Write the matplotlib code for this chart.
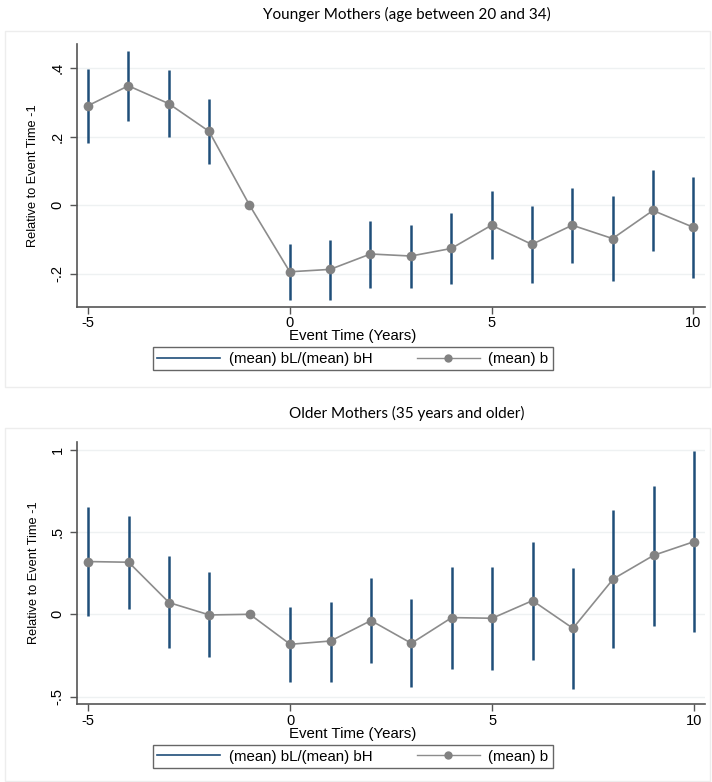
import matplotlib
matplotlib.use("Agg")
import matplotlib.pyplot as plt
from matplotlib.patches import Rectangle
from matplotlib.lines import Line2D
from matplotlib import font_manager

event_time = [-5, -4, -3, -2, -1, 0, 1, 2, 3, 4, 5, 6, 7, 8, 9, 10]

young_b = [0.290, 0.348, 0.296, 0.215, 0.0, -0.195, -0.188, -0.143, -0.149, -0.127,
           -0.059, -0.115, -0.059, -0.098, -0.016, -0.065]
young_hi = [0.398, 0.449, 0.393, 0.310, 0.0, -0.115, -0.102, -0.046, -0.057, -0.022,
            0.041, -0.003, 0.050, 0.027, 0.102, 0.083]
young_lo = [0.182, 0.246, 0.198, 0.120, 0.0, -0.276, -0.276, -0.242, -0.242, -0.231,
            -0.159, -0.227, -0.168, -0.221, -0.134, -0.212]

old_b = [0.320, 0.316, 0.071, -0.004, 0.0, -0.182, -0.162, -0.038, -0.176, -0.020,
         -0.024, 0.083, -0.085, 0.215, 0.358, 0.441]
old_hi = [0.650, 0.599, 0.354, 0.255, 0.0, 0.043, 0.077, 0.219, 0.091, 0.289,
          0.285, 0.441, 0.279, 0.634, 0.781, 0.988]
old_lo = [-0.010, 0.030, -0.206, -0.261, 0.0, -0.409, -0.409, -0.298, -0.443, -0.334,
          -0.338, -0.277, -0.451, -0.202, -0.069, -0.109]

young_yticks = [-0.2, 0.0, 0.2, 0.4]
young_ylabels = ["-.2", "0", ".2", ".4"]
old_yticks = [-0.5, 0.0, 0.5, 1.0]
old_ylabels = ["-.5", "0", ".5", "1"]
xticks = [-5, 0, 5, 10]
xlabels = ["-5", "0", "5", "10"]

titles = ["Younger Mothers (age between 20 and 34)", "Older Mothers (35 years and older)"]
legend_labels = ["(mean) bL/(mean) bH", "(mean) b"]

plt.rcParams["font.family"] = ["Liberation Sans", "DejaVu Sans"]
available = {f.name for f in font_manager.fontManager.ttflist}
if "Liberation Sans Narrow" in available:
    YLAB_FONT, YLAB_SIZE = "Liberation Sans Narrow", 10.5
else:
    YLAB_FONT, YLAB_SIZE = "Liberation Sans", 9.2

W, H = 712, 782
fig = plt.figure(figsize=(W / 100, H / 100), dpi=100)
fig.patch.set_facecolor("white")

CI_COL = "#1f4e79"
PT_COL = "#828282"
LINE_COL = "#8c8c8c"
GRID_COL = "#eef1f2"
FONT = "Liberation Sans"


def fx(px):
    return px / W


def fy(py):
    return 1 - py / H


def make_panel(left, right, top, bottom, b, lo, hi, ylim, xlim, yticks, ylabels,
               title, title_y, region, xlabel_y, leg_y):
    rx0, ry0, rx1, ry1 = region
    fig.patches.append(Rectangle((fx(rx0), fy(ry1)), fx(rx1 - rx0), (ry1 - ry0) / H,
                                 transform=fig.transFigure, facecolor="none",
                                 edgecolor="#ededed", linewidth=1.0, zorder=-1))
    ax = fig.add_axes([fx(left), fy(bottom), fx(right - left), (bottom - top) / H])
    ax.patch.set_alpha(0)
    ax.vlines(event_time, lo, hi, color=CI_COL, linewidth=1.8, zorder=3)
    ax.plot(event_time, b, color=LINE_COL, linewidth=1.2, zorder=4)
    ax.plot(event_time, b, color=PT_COL, linestyle="none", marker="o", markersize=7,
            markeredgewidth=0, zorder=5)
    ax.set_xlim(*xlim)
    ax.set_ylim(*ylim)
    ax.set_yticks(yticks)
    ax.set_yticklabels(ylabels, rotation=90, va="center", fontsize=10.5, family=FONT)
    ax.set_xticks(xticks)
    ax.set_xticklabels(xlabels, fontsize=10.5, family=FONT)
    ax.grid(axis="y", color=GRID_COL, linewidth=1.0, zorder=0)
    ax.set_axisbelow(True)
    for s in ["top", "right"]:
        ax.spines[s].set_visible(False)
    for s in ["left", "bottom"]:
        ax.spines[s].set_color("#555555")
        ax.spines[s].set_linewidth(1.2)
    ax.tick_params(axis="both", length=5, width=1, color="#555555")
    ax.tick_params(axis="x", pad=2)
    ax.tick_params(axis="y", pad=4)
    ax.set_ylabel("Relative to Event Time -1", fontsize=YLAB_SIZE, family=YLAB_FONT,
                  labelpad=8)
    fig.text(fx(353), fy(xlabel_y), "Event Time (Years)", ha="center", va="center",
             fontsize=10.8, family=FONT)
    fig.text(fx(407), fy(title_y), title, ha="center", va="center", fontsize=11,
             family="Lato", color="#000000")
    handles = [Line2D([0], [0], color=CI_COL, linewidth=1.2),
               Line2D([0], [0], color=LINE_COL, linewidth=1.0, marker="o",
                      markersize=6, markerfacecolor=PT_COL, markeredgewidth=0)]
    fig.legend(handles, legend_labels, loc="center", bbox_to_anchor=(fx(353), fy(leg_y)),
               ncol=2, frameon=True, fancybox=False, edgecolor="#666666",
               prop={"family": FONT, "size": 10.8}, handlelength=4.2,
               handletextpad=0.6, columnspacing=2.9, borderpad=0.3,
               framealpha=1)
    return ax


make_panel(77, 705, 44, 306.7, young_b, young_lo, young_hi,
           ((205 - 306.7) / 342.5, (205 - 44) / 342.5), (-5.273, 10.29),
           young_yticks, young_ylabels, titles[0], 14, (5, 31, 710, 387), 336.5, 359)

make_panel(77.3, 705, 441.7, 704, old_b, old_lo, old_hi,
           ((614.3 - 704) / 164.8, (614.3 - 441.7) / 164.8), (-5.272, 10.27),
           old_yticks, old_ylabels, titles[1], 413, (5, 428, 710, 781), 734, 756.5)

fig.savefig("out.png", dpi=100, facecolor="white")
